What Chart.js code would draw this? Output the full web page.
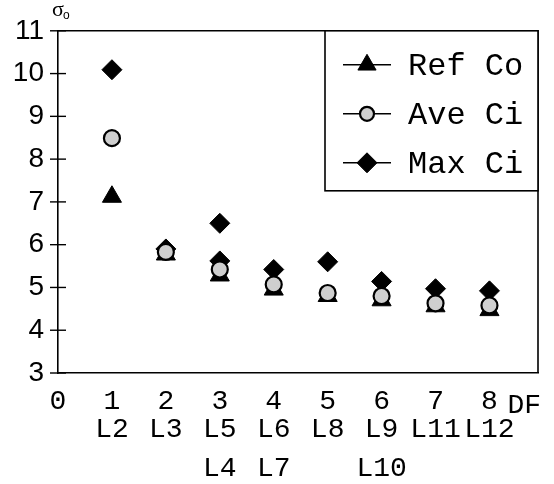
<!DOCTYPE html>
<html>
<head>
<meta charset="utf-8">
<script src="https://cdn.jsdelivr.net/npm/chart.js@4/dist/chart.umd.min.js"></script>
<style>
  html, body { margin: 0; padding: 0; background: #fff; }
  #wrap { width: 554px; height: 484px; position: relative; }
</style>
</head>
<body>
<div id="wrap"><canvas id="c"></canvas></div>
<script>
// ---- data ----
const seriesNames = ['Ref Co', 'Ave Ci', 'Max Ci'];
const refX = [1, 2, 3, 4, 5, 6, 7, 8];
const refY = [7.12, 5.77, 5.28, 4.95, 4.8, 4.7, 4.56, 4.47];
const aveX = [1, 2, 3, 4, 5, 6, 7, 8];
const aveY = [8.49, 5.83, 5.42, 5.07, 4.87, 4.8, 4.63, 4.58];
const maxX = [1, 2, 3, 3, 4, 5, 6, 7, 8];
const maxY = [10.09, 5.9, 6.5, 5.62, 5.42, 5.6, 5.14, 4.97, 4.92];
const xTickValues = [0, 1, 2, 3, 4, 5, 6, 7, 8];
const xTickRow1 = ['0', '1', '2', '3', '4', '5', '6', '7', '8'];
const xTickRow2 = ['', 'L2', 'L3', 'L5', 'L6', 'L8', 'L9', 'L11', 'L12'];
const xTickRow3 = ['', '', '', 'L4', 'L7', '', 'L10', '', ''];
const yTickValues = [3, 4, 5, 6, 7, 8, 9, 10, 11];
const xAxisTitle = 'DF';
const yAxisTitle = ['σ', 'o'];

const pts = (xs, ys) => xs.map((x, i) => ({ x: x, y: ys[i] }));

const styles = [
  { pointStyle: 'triangle', radius: 11, bg: '#000', border: '#000', bw: 1 },
  { pointStyle: 'circle', radius: 8, bg: '#cfcfcf', border: '#000', bw: 2.2 },
  { pointStyle: 'rectRot', radius: 10, bg: '#000', border: '#000', bw: 1 }
];

function drawMarker(ctx, st, x, y) {
  ctx.save();
  ctx.fillStyle = st.bg; ctx.strokeStyle = st.border; ctx.lineWidth = st.bw;
  ctx.beginPath();
  const r = st.radius;
  if (st.pointStyle === 'triangle') {
    for (let k = 0; k < 3; k++) {
      const a = k * 2 * Math.PI / 3;
      const px = x + Math.sin(a) * r, py = y - Math.cos(a) * r;
      if (k === 0) ctx.moveTo(px, py); else ctx.lineTo(px, py);
    }
    ctx.closePath();
  } else if (st.pointStyle === 'circle') {
    ctx.arc(x, y, r, 0, Math.PI * 2);
  } else {
    ctx.moveTo(x, y - r); ctx.lineTo(x + r, y); ctx.lineTo(x, y + r); ctx.lineTo(x - r, y); ctx.closePath();
  }
  ctx.fill(); ctx.stroke();
  ctx.restore();
}

const decor = {
  id: 'decor',
  afterDraw(chart) {
    const ctx = chart.ctx, a = chart.chartArea;
    const ys = chart.scales.y, xs = chart.scales.x;
    ctx.save();
    ctx.strokeStyle = '#000';
    ctx.lineWidth = 1.6;
    // top and right frame
    ctx.beginPath();
    ctx.moveTo(a.left, a.top); ctx.lineTo(a.right, a.top); ctx.lineTo(a.right, a.bottom);
    ctx.stroke();
    // y ticks crossing the axis
    ctx.lineWidth = 1.4;
    yTickValues.forEach(v => {
      const py = ys.getPixelForValue(v);
      ctx.beginPath(); ctx.moveTo(a.left - 8, py); ctx.lineTo(a.left + 8, py); ctx.stroke();
    });
    // y axis title sigma_o
    ctx.fillStyle = '#000';
    ctx.textBaseline = 'alphabetic';
    ctx.font = '22px "Liberation Serif"';
    ctx.fillText(yAxisTitle[0], a.left - 6, 16);
    ctx.font = '12px "Liberation Sans"';
    ctx.fillText(yAxisTitle[1], a.left + 5, 19);
    // x axis title DF
    ctx.font = '28px "Liberation Mono"';
    ctx.textAlign = 'left';
    ctx.fillText(xAxisTitle, xs.getPixelForValue(8) + 18, 413);
    // legend box
    const bw = 213, bh = 160;
    const bx = a.right - bw, by = a.top;
    ctx.fillStyle = '#fff';
    ctx.fillRect(bx, by, bw, bh);
    ctx.lineWidth = 1.6;
    ctx.strokeRect(bx, by, bw, bh);
    ctx.font = '32px "Liberation Mono"';
    ctx.textBaseline = 'middle';
    seriesNames.forEach((name, i) => {
      const cy = by + 34 + i * 49;
      ctx.lineWidth = 1.6;
      ctx.beginPath(); ctx.moveTo(bx + 18, cy); ctx.lineTo(bx + 66, cy); ctx.stroke();
      const st = Object.assign({}, styles[i]);
      if (i === 1) st.radius = 7;
      if (i === 0) st.radius = 10.5;
      drawMarker(ctx, st, bx + 42, cy);
      ctx.fillStyle = '#000';
      ctx.fillText(name, bx + 83, cy + 2);
    });
    ctx.restore();
  }
};

const datasets = [
  { label: seriesNames[0], data: pts(refX, refY), order: 1 },
  { label: seriesNames[1], data: pts(aveX, aveY), order: 0 },
  { label: seriesNames[2], data: pts(maxX, maxY), order: 2 }
].map((d, i) => Object.assign(d, {
  pointStyle: styles[i].pointStyle,
  pointRadius: styles[i].radius,
  pointBackgroundColor: styles[i].bg,
  pointBorderColor: styles[i].border,
  pointBorderWidth: styles[i].bw,
  showLine: false
}));

const monoFont = { family: '"Liberation Mono", monospace', size: 28, lineHeight: 1.0 };

new Chart(document.getElementById('c'), {
  type: 'scatter',
  data: { datasets: datasets },
  options: {
    responsive: true,
    maintainAspectRatio: false,
    animation: false,
    events: [],
    layout: { padding: { top: 29, right: 16, left: 0, bottom: 0 } },
    plugins: { legend: { display: false }, tooltip: { enabled: false } },
    scales: {
      x: {
        type: 'linear', position: 'bottom', min: 0, max: 8.9,
        afterBuildTicks: s => { s.ticks = xTickValues.map(v => ({ value: v })); },
        afterFit: s => { s.height = 72; },
        grid: { display: true, drawOnChartArea: false, drawTicks: false },
        border: { display: true, color: '#000', width: 1.6 },
        ticks: {
          autoSkip: false, maxRotation: 0, minRotation: 0, padding: 15,
          color: '#000', font: monoFont,
          callback: (v) => { const i = xTickValues.indexOf(v); return i >= 0 ? [xTickRow1[i], xTickRow2[i]] : ''; }
        }
      },
      x2: {
        type: 'linear', position: 'bottom', min: 0, max: 8.9,
        afterBuildTicks: s => { s.ticks = xTickValues.map(v => ({ value: v })); },
        afterFit: s => { s.height = 39; },
        grid: { display: false, drawTicks: false },
        border: { display: false },
        ticks: {
          autoSkip: false, maxRotation: 0, minRotation: 0, padding: 10,
          color: '#000', font: monoFont,
          callback: (v) => { const i = xTickValues.indexOf(v); return i >= 0 ? xTickRow3[i] : ''; }
        }
      },
      y: {
        type: 'linear', min: 3, max: 11,
        afterBuildTicks: s => { s.ticks = yTickValues.map(v => ({ value: v })); },
        afterFit: s => { s.width = 58; },
        grid: { display: true, drawOnChartArea: false, drawTicks: false },
        border: { display: true, color: '#000', width: 1.6 },
        ticks: {
          padding: 14, color: '#000',
          font: { family: '"Liberation Sans", Arial, sans-serif', size: 28 },
          callback: v => String(v)
        }
      }
    }
  },
  plugins: [decor]
});
</script>
</body>
</html>
